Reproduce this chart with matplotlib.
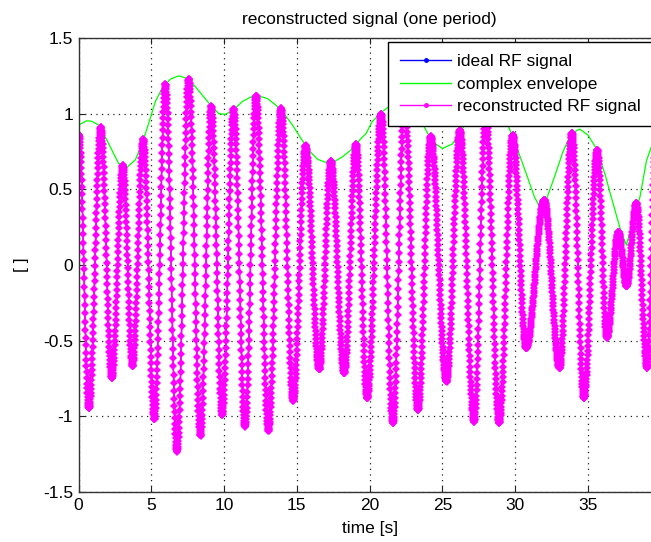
import numpy as np
import matplotlib
matplotlib.use('Agg')
import matplotlib.pyplot as plt
from matplotlib.lines import Line2D

plt.rcParams['font.family'] = ['Liberation Sans', 'DejaVu Sans']
plt.rcParams['axes.unicode_minus'] = False

# extrema of the RF signal (time [s], value)
ext_t = [-0.70, 0.03, 0.72, 1.53, 2.29, 3.05, 3.71, 4.45, 5.21, 5.97, 6.77, 7.57, 8.38,
         9.12, 9.87, 10.66, 11.44, 12.20, 13.05, 13.92, 14.75, 15.60, 16.54, 17.34,
         18.26, 19.07, 19.83, 20.80, 21.60, 22.40, 23.32, 24.20, 25.28, 26.20, 27.18,
         27.97, 28.90, 29.83, 30.75, 32.00, 33.05, 33.90, 34.72, 35.64, 36.30, 37.10,
         37.65, 38.33, 39.07, 39.65, 40.40]
ext_v = [-0.90, 0.86, -0.947, 0.91, -0.75, 0.66, -0.667, 0.83, -1.02, 1.195, -1.233,
         1.23, -1.127, 1.05, -0.99, 1.03, -1.068, 1.12, -1.094, 1.035, -0.896, 0.79,
         -0.69, 0.69, -0.715, 0.80, -0.88, 1.00, -1.045, 1.08, -0.958, 0.85, -0.77,
         0.89, -1.035, 1.00, -1.045, 0.86, -0.55, 0.43, -0.68, 0.875, -0.88, 0.76,
         -0.48, 0.22, -0.14, 0.41, -0.68, 0.80, -0.90]

# magnitude of the complex envelope
env_t = [0.0, 0.56, 0.91, 1.37, 1.83, 2.29, 2.75, 3.32, 3.9, 4.36, 4.82, 5.28, 5.74,
         6.31, 6.88, 7.46, 8.03, 8.61, 9.07, 9.64, 10.1, 10.68, 11.25, 11.83, 12.4,
         12.98, 13.55, 14.12, 14.7, 15.28, 15.85, 16.43, 17.0, 17.57, 18.15, 18.72,
         19.3, 19.76, 20.17, 20.86, 21.32, 21.8, 22.4, 23.0, 23.4, 23.74, 24.31, 25.0,
         25.69, 26.38, 26.8, 27.3, 28.0, 28.6, 29.1, 29.6, 30.17, 30.75, 31.32, 31.67,
         32.13, 32.7, 33.28, 33.85, 34.43, 35.0, 35.57, 36.15, 36.72, 37.3, 37.64,
         38.1, 38.57, 39.02, 39.43, 40.0]
env_v = [0.925, 0.953, 0.95, 0.925, 0.848, 0.76, 0.672, 0.645, 0.694, 0.80, 0.936,
         1.08, 1.167, 1.228, 1.25, 1.233, 1.178, 1.11, 1.057, 1.0, 0.995, 1.028, 1.08,
         1.11, 1.116, 1.10, 1.057, 1.0, 0.925, 0.837, 0.755, 0.698, 0.678, 0.683,
         0.716, 0.76, 0.825, 0.87, 0.947, 1.013, 1.046, 1.08, 1.095, 1.06, 0.99, 0.914,
         0.815, 0.77, 0.80, 0.90, 0.97, 1.03, 1.06, 1.06, 1.01, 0.90, 0.76, 0.606,
         0.45, 0.385, 0.43, 0.583, 0.748, 0.87, 0.898, 0.858, 0.77, 0.606, 0.407,
         0.21, 0.132, 0.297, 0.45, 0.69, 0.80, 0.95]

x_ticks = [0, 5, 10, 15, 20, 25, 30, 35]
y_ticks = [-1.5, -1, -0.5, 0, 0.5, 1, 1.5]
y_tick_labels = ['-1.5', '-1', '-0.5', '0', '0.5', '1', '1.5']
labels = ['ideal RF signal', 'complex envelope', 'reconstructed RF signal']

dt = 1.0 / 70
t = np.arange(0, 40.0 + dt / 2, dt)
et = np.array(ext_t)
ev = np.array(ext_v)
seg = np.clip(np.searchsorted(et, t, side='right') - 1, 0, len(et) - 2)
s = (t - et[seg]) / (et[seg + 1] - et[seg])
v0, v1 = ev[seg], ev[seg + 1]
rf = (v0 + v1) / 2 + (v0 - v1) / 2 * np.cos(np.pi * s)

FS = 12.5
W, H = 651, 542
fig = plt.figure(figsize=(W / 100, H / 100), dpi=100)
x0, x1 = 78.5, 78.5 + 40 * 14.557
ax = fig.add_axes([x0 / W, 1 - 492 / H, (x1 - x0) / W, (492 - 38) / H])

ax.plot(t, rf, color='blue', lw=0.8, marker='.', ms=2)
ax.plot(env_t, env_v, color='#00ff00', lw=0.9)
ax.plot(t, rf, color='magenta', lw=1.2, marker='D', ms=4.0, mew=0)

ax.set_xlim(0, 40)
ax.set_ylim(-1.5, 1.5)
ax.set_xticks(x_ticks)
ax.set_xticklabels([str(v) for v in x_ticks])
ax.set_yticks(y_ticks)
ax.set_yticklabels(y_tick_labels)
ax.tick_params(direction='in', top=True, right=True, length=4, width=0.8,
               labelsize=FS, colors='#222222', labelcolor='black', pad=4)
for sp in ax.spines.values():
    sp.set_color('#333333')
    sp.set_linewidth(1.0)
ax.grid(True, color='#222222', linestyle=(0, (1, 3.5)), linewidth=0.9)

ax.set_title('reconstructed signal (one period)', fontsize=FS, pad=10)
ax.set_xlabel('time [s]', fontsize=FS, labelpad=6)
ax.set_ylabel('[ ]', fontsize=FS, labelpad=10)

handles = [Line2D([], [], color='blue', lw=1, marker='.', ms=5),
           Line2D([], [], color='#00ff00', lw=1),
           Line2D([], [], color='magenta', lw=1, marker='.', ms=5)]
leg = ax.legend(handles, labels, loc='upper left', bbox_to_anchor=(388 / W, 1 - 42 / H),
                bbox_transform=fig.transFigure, borderaxespad=0, fontsize=FS,
                handlelength=2.95, handletextpad=0.35, labelspacing=0.42,
                borderpad=0.7, fancybox=False, framealpha=1, edgecolor='black',
                numpoints=1)
leg.get_frame().set_linewidth(1.0)

fig.savefig('out.png', dpi=100)
